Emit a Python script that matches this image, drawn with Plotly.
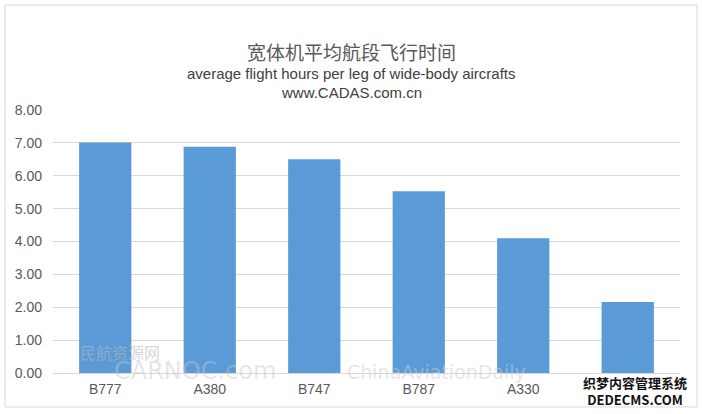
import plotly.graph_objects as go

categories = ["B777", "A380", "B747", "B787", "A330", "B767"]
hours = [7.01, 6.88, 6.50, 5.53, 4.10, 2.16]
tick_vals = [0, 1, 2, 3, 4, 5, 6, 7, 8]
tick_text = ["0.00", "1.00", "2.00", "3.00", "4.00", "5.00", "6.00", "7.00", "8.00"]

title_cn = "宽体机平均航段飞行时间"
subtitle_en = "average flight hours per leg of wide-body aircrafts"
source = "www.CADAS.com.cn"

fig = go.Figure()
fig.add_trace(go.Bar(
    x=categories, y=hours,
    marker=dict(color="#5a9ad6", line=dict(width=0)),
    showlegend=False,
))

W, H = 702, 414
L, R, T, B = 53, 22, 110, 41

fig.update_layout(
    width=W, height=H,
    margin=dict(l=L, r=R, t=T, b=B),
    paper_bgcolor="white", plot_bgcolor="white",
    bargap=0.5,
    font=dict(family="Liberation Sans, Arial, sans-serif", color="#595959", size=14),
    xaxis=dict(showgrid=False, showline=True, linecolor="#d9d9d9", linewidth=1,
               ticks="", tickfont=dict(size=14, color="#595959"), ticklabelstandoff=3),
    yaxis=dict(range=[0, 8], tickvals=tick_vals, ticktext=tick_text,
               showgrid=True, gridcolor="#d9d9d9", gridwidth=1,
               zeroline=False, showline=False, ticks="",
               tickfont=dict(size=14, color="#595959"), ticklabelstandoff=10),
)

def py(p):
    return (H - B - p) / (H - T - B)

def px(p):
    return (p - L) / (W - L - R)

fig.add_annotation(text=title_cn, x=px(351), y=py(36), xref="paper", yref="paper",
                   showarrow=False, font=dict(size=19, color="#595959",
                   family="Noto Sans CJK SC, sans-serif"))
fig.add_annotation(text=subtitle_en, x=px(351), y=py(63), xref="paper", yref="paper",
                   showarrow=False, font=dict(size=15, color="#404040"))
fig.add_annotation(text=source, x=px(351), y=py(82), xref="paper", yref="paper",
                   showarrow=False, font=dict(size=15, color="#404040"))

# chart border
fig.add_shape(type="rect", xref="paper", yref="paper",
              x0=px(5), x1=px(697), y0=py(407), y1=py(5),
              line=dict(color="#d9d9d9", width=1))

# white patch under the logo watermark
fig.add_shape(type="rect", xref="paper", yref="paper", layer="above",
              x0=px(592), x1=px(690), y0=py(405), y1=py(377),
              fillcolor="white", line=dict(width=0))

# faint watermarks
fig.add_annotation(text="民航资源网", x=px(78), y=py(366), xref="paper", yref="paper",
                   showarrow=False, font=dict(size=16, color="rgba(185,185,185,0.6)",
                   family="Noto Sans CJK SC, sans-serif"))
fig.add_annotation(text="CARNOC.com", x=px(112), y=py(387), xref="paper", yref="paper",
                   showarrow=False, font=dict(size=24, color="rgba(200,200,200,0.45)",
                   family="DejaVu Sans, sans-serif"))
fig.add_annotation(text="ChinaAviationDaily", x=px(528), y=py(385), xref="paper", yref="paper",
                   showarrow=False, font=dict(size=19, color="rgba(205,205,205,0.5)",
                   family="DejaVu Sans, sans-serif"))
fig.add_annotation(text="<b>织梦内容管理系统</b><br><b>DEDECMS.COM</b>", x=px(689), y=py(391),
                   xref="paper", yref="paper", xanchor="right", yanchor="middle",
                   showarrow=False,
                   font=dict(size=13, color="#111111", family="Noto Sans CJK SC, sans-serif"))

fig.write_html("out.html", config={"displayModeBar": False},
               post_script="document.body.style.margin='0px';")
